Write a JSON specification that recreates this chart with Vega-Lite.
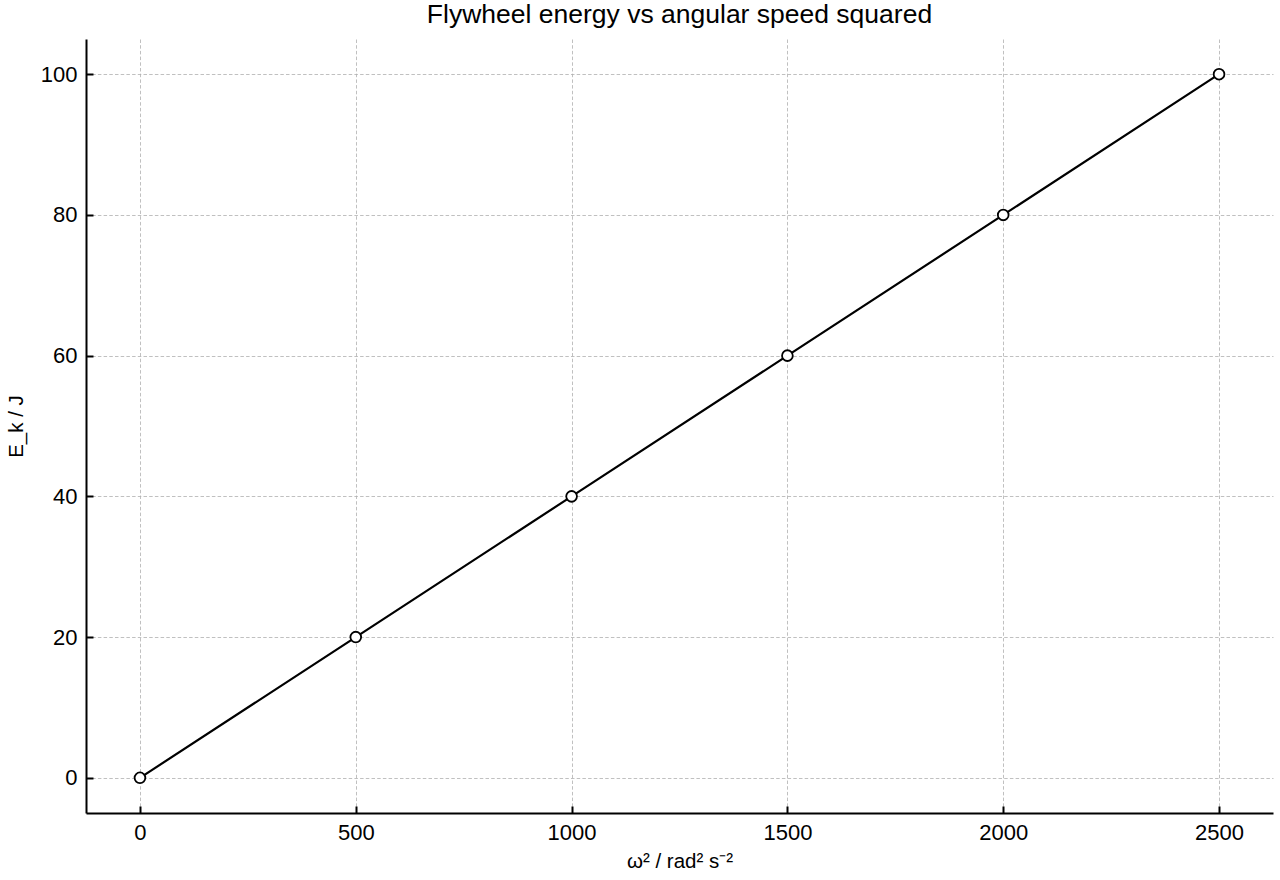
{
  "$schema": "https://vega.github.io/schema/vega-lite/v6.json",
  "autosize": "none",
  "padding": {"left": 86, "top": 39, "right": 7, "bottom": 67},
  "width": 1187,
  "height": 774,
  "background": "white",
  "title": {"text": "Flywheel energy vs angular speed squared", "font": "Liberation Sans", "fontSize": 26.5, "fontWeight": "normal", "color": "black", "offset": 11},
  "config": {
    "view": {"stroke": null}
  },
  "data": {"values": [
    {"w2": 0, "E": 0},
    {"w2": 500, "E": 20},
    {"w2": 1000, "E": 40},
    {"w2": 1500, "E": 60},
    {"w2": 2000, "E": 80},
    {"w2": 2500, "E": 100}
  ]},
  "encoding": {
    "x": {"field": "w2", "type": "quantitative", "scale": {"domain": [-125, 2625], "nice": false, "zero": false},
      "axis": {"title": "ω² / rad² s⁻²", "values": [0, 500, 1000, 1500, 2000, 2500], "format": "d",
        "labelFont": "Liberation Sans", "labelFontSize": 22, "labelColor": "black",
        "titleFont": "Liberation Sans", "titleFontSize": 20.5, "titleFontWeight": "normal", "titleColor": "black",
        "domainColor": "black", "domainWidth": 2, "tickColor": "black", "tickWidth": 2, "tickSize": -7,
        "gridColor": "#b0b0b0", "gridDash": [3.5, 2.2], "gridWidth": 0.8,
        "labelPadding": 16, "titlePadding": 8}},
    "y": {"field": "E", "type": "quantitative", "scale": {"domain": [-5, 105], "nice": false, "zero": false},
      "axis": {"title": "E_k / J", "values": [0, 20, 40, 60, 80, 100], "format": "d",
        "labelFont": "Liberation Sans", "labelFontSize": 22, "labelColor": "black",
        "titleFont": "Liberation Sans", "titleFontSize": 20.5, "titleFontWeight": "normal", "titleColor": "black",
        "domainColor": "black", "domainWidth": 2, "tickColor": "black", "tickWidth": 2, "tickSize": -7,
        "gridColor": "#b0b0b0", "gridDash": [3.5, 2.2], "gridWidth": 0.8,
        "labelPadding": 16, "titlePadding": 14}}
  },
  "layer": [
    {"mark": {"type": "line", "color": "black", "strokeWidth": 2.2}},
    {"mark": {"type": "point", "shape": "circle", "filled": true, "fill": "white", "stroke": "black", "strokeWidth": 1.8, "size": 115, "opacity": 1}}
  ]
}
